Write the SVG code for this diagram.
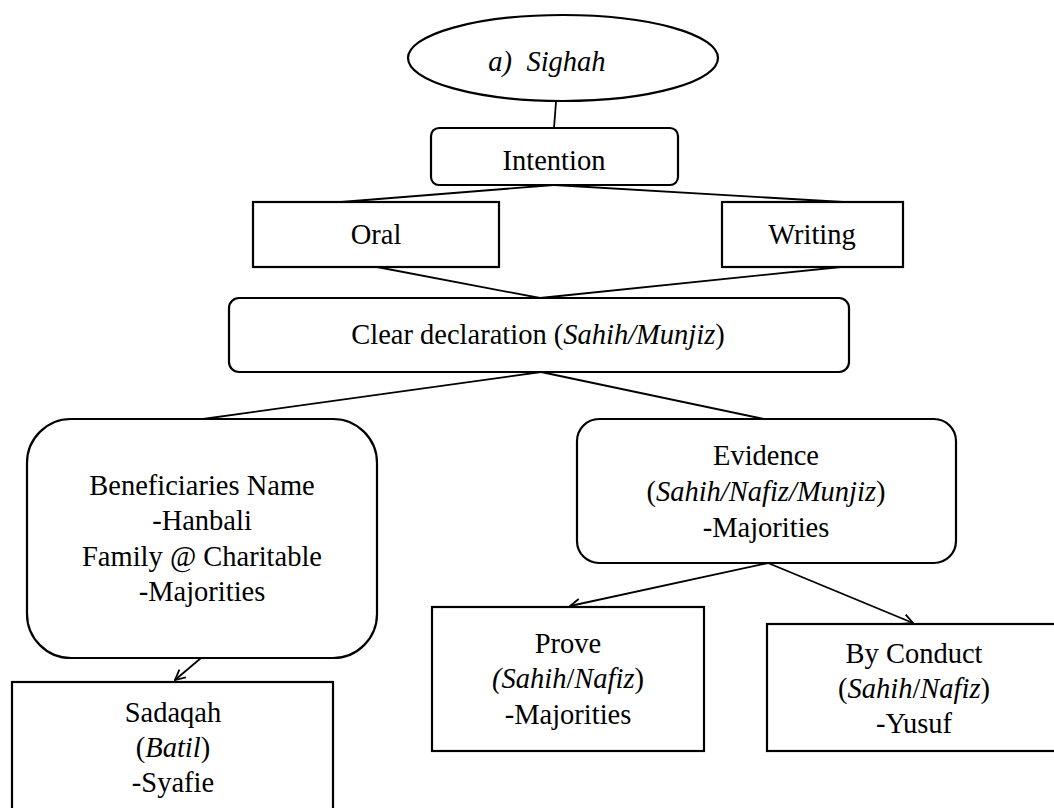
<svg xmlns="http://www.w3.org/2000/svg" width="1054" height="808" viewBox="0 0 1054 808">
<style>
.box{fill:#fff;stroke:#000;stroke-width:2.2}
.ln{stroke:#000;stroke-width:1.8;fill:none}
.t{font-family:"Liberation Serif","Times New Roman",serif;font-size:28.5px;fill:#000;text-anchor:middle}
.i{font-style:italic}
</style>
<defs>
<marker id="arr" viewBox="0 0 12 12" refX="11" refY="6" markerWidth="12" markerHeight="12" markerUnits="userSpaceOnUse" orient="auto">
<path d="M1,1 L11,6 L1,11" fill="none" stroke="#000" stroke-width="1.8"/>
</marker>
</defs>
<rect width="1054" height="808" fill="#fff"/>
<g id="connectors">
<line class="ln" x1="556" y1="102" x2="554" y2="128"/>
<line class="ln" x1="554" y1="185" x2="341" y2="202"/>
<line class="ln" x1="554" y1="185" x2="843" y2="202"/>
<line class="ln" x1="377" y1="267" x2="540" y2="298"/>
<line class="ln" x1="841" y1="267" x2="540" y2="298"/>
<line class="ln" x1="541" y1="372" x2="203" y2="419"/>
<line class="ln" x1="541" y1="372" x2="764" y2="419"/>
<line class="ln" x1="201" y1="658" x2="175" y2="680" marker-end="url(#arr)"/>
<line class="ln" x1="768" y1="563" x2="570" y2="606" marker-end="url(#arr)"/>
<line class="ln" x1="768" y1="563" x2="913" y2="623" marker-end="url(#arr)"/>
</g>
<g id="sighah">
<ellipse class="box" cx="563" cy="58" rx="155" ry="43"/>
<text class="t i" x="500" y="71">a)</text>
<text class="t i" x="566" y="71">Sighah</text>
</g>
<g id="intention">
<rect class="box" x="431" y="128" width="247" height="57" rx="8"/>
<text class="t" x="554" y="170">Intention</text>
</g>
<g id="oral">
<rect class="box" x="253" y="202" width="246" height="65"/>
<text class="t" x="376" y="244">Oral</text>
</g>
<g id="writing">
<rect class="box" x="722" y="202" width="181" height="65"/>
<text class="t" x="812" y="244">Writing</text>
</g>
<g id="clear">
<rect class="box" x="229" y="298" width="620" height="74" rx="10"/>
<text class="t" x="538" y="344">Clear declaration (<tspan class="i">Sahih/Munjiz</tspan>)</text>
</g>
<g id="beneficiaries">
<rect class="box" x="27" y="419" width="350" height="239" rx="44"/>
<text class="t" x="202" y="495">Beneficiaries Name</text>
<text class="t" x="202" y="530">-Hanbali</text>
<text class="t" x="202" y="566">Family @ Charitable</text>
<text class="t" x="202" y="601">-Majorities</text>
</g>
<g id="evidence">
<rect class="box" x="577" y="419" width="379" height="144" rx="22"/>
<text class="t" x="766" y="465">Evidence</text>
<text class="t" x="766" y="501">(<tspan class="i">Sahih/Nafiz/Munjiz</tspan>)</text>
<text class="t" x="766" y="537">-Majorities</text>
</g>
<g id="sadaqah">
<rect class="box" x="12" y="682" width="321" height="140"/>
<text class="t" x="173" y="722">Sadaqah</text>
<text class="t" x="173" y="757">(<tspan class="i">Batil</tspan>)</text>
<text class="t" x="173" y="792">-Syafie</text>
</g>
<g id="prove">
<rect class="box" x="432" y="607" width="272" height="144"/>
<text class="t" x="568" y="653">Prove</text>
<text class="t" x="568" y="688"><tspan class="i">(Sahih</tspan>/<tspan class="i">Nafiz</tspan>)</text>
<text class="t" x="568" y="724">-Majorities</text>
</g>
<g id="byconduct">
<rect class="box" x="767" y="624" width="300" height="127"/>
<text class="t" x="914" y="663">By Conduct</text>
<text class="t" x="914" y="698">(<tspan class="i">Sahih</tspan>/<tspan class="i">Nafiz</tspan>)</text>
<text class="t" x="914" y="733">-Yusuf</text>
</g>
</svg>
